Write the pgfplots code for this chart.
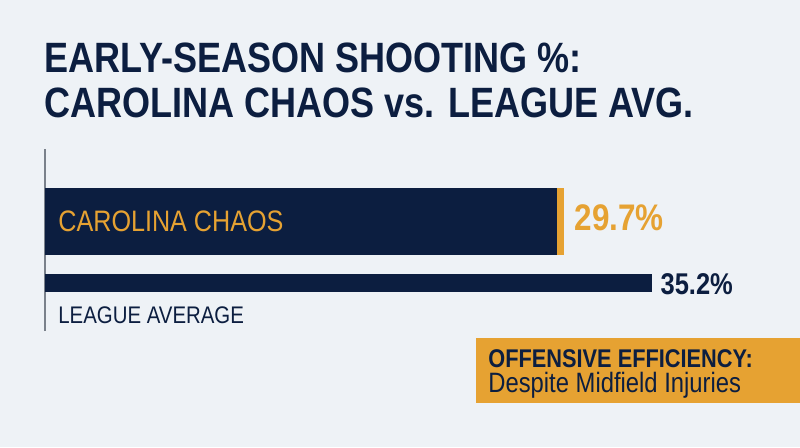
\documentclass[border=0pt]{standalone}
\usepackage{pgfplots}
\pgfplotsset{compat=1.18}
\usepackage{fontspec}
\setmainfont{Liberation Sans}
\newfontfamily\cond[FakeStretch=0.85]{Liberation Sans}
\definecolor{bg}{HTML}{EEF2F6}
\definecolor{navy}{HTML}{0C1E40}
\definecolor{gold}{HTML}{E6A232}
\definecolor{axisgray}{HTML}{7A818B}
\begin{document}
\begin{tikzpicture}[x=0.5pt,y=0.5pt]
  % canvas in pixel units (800 x 447)
  \fill[bg] (0,0) rectangle (800,447);
  \begin{axis}[
      at={(22.5pt,58pt)}, anchor=south west,
      scale only axis, width=345pt, height=91pt,
      xmin=0, xmax=40, ymin=-0.78, ymax=2.18,
      axis x line=none, axis y line=left,
      axis line style={draw=axisgray, line width=0.6pt, -},
      xtick=\empty, ytick=\empty,
      xbar, bar shift=0pt,
      clip=false,
    ]
    % orange cap behind the team bar
    \addplot[fill=gold, draw=none, bar width=33.5pt] coordinates {(30.1,1)};
    \addplot[fill=navy, draw=none, bar width=33.5pt] coordinates {(29.7,1)};
    \addplot[fill=navy, draw=none, bar width=9pt] coordinates {(35.2,0)};
    \node[anchor=base west, inner sep=0, text=gold, font=\cond\fontsize{14.8}{16}\selectfont,
      xshift=6.5pt, yshift=-5pt] at (axis cs:0,1) {CAROLINA CHAOS};
    \node[anchor=base west, inner sep=0, text=gold, font=\cond\bfseries\fontsize{18.5}{20}\selectfont,
      xshift=5pt, yshift=-4.25pt] at (axis cs:30.1,1) {29.7\%};
    \node[anchor=base west, inner sep=0, text=navy, font=\cond\bfseries\fontsize{15}{16}\selectfont,
      xshift=4pt, yshift=-5.5pt] at (axis cs:35.2,0) {35.2\%};
    \node[anchor=base west, inner sep=0, text=navy, font=\cond\fontsize{12}{14}\selectfont,
      xshift=6.5pt, yshift=-20pt] at (axis cs:0,0) {LEAGUE AVERAGE};
  \end{axis}
  % title
  \node[anchor=base west, inner sep=0, text=navy, font=\cond\bfseries\fontsize{21.2}{25}\selectfont]
    at (44,375) {EARLY-SEASON SHOOTING \%:};
  \node[anchor=base west, inner sep=0, text=navy, font=\cond\bfseries\fontsize{21.2}{25}\selectfont]
    at (44,330) {CAROLINA CHAOS vs. LEAGUE AVG.};
  % callout box
  \fill[gold] (476,44) rectangle (800,109);
  \node[anchor=base west, inner sep=0, text=navy, font=\cond\bfseries\fontsize{12.8}{14}\selectfont]
    at (488,80) {OFFENSIVE EFFICIENCY:};
  \node[anchor=base west, inner sep=0, text=navy, font=\cond\fontsize{14}{16}\selectfont]
    at (488,55) {Despite Midfield Injuries};
\end{tikzpicture}
\end{document}
